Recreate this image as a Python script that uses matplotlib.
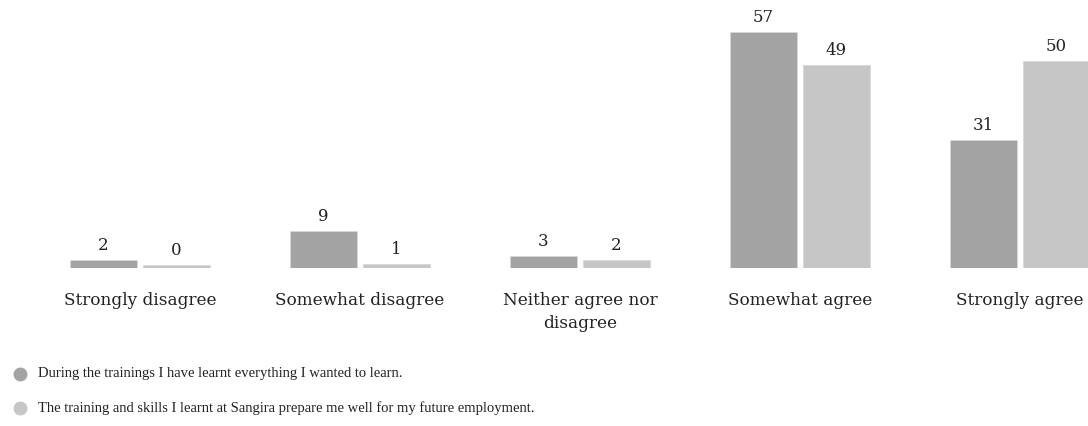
import matplotlib
matplotlib.use("Agg")
import matplotlib.pyplot as plt
from matplotlib.lines import Line2D
import numpy as np

# Survey answers and counts for the two statements
categories = ["Strongly disagree", "Somewhat disagree", "Neither agree nor\ndisagree",
              "Somewhat agree", "Strongly agree"]
learnt_everything = [2, 9, 3, 57, 31]
prepared_for_job = [0, 1, 2, 49, 50]
series_labels = [
    "During the trainings I have learnt everything I wanted to learn.",
    "The training and skills I learnt at Sangira prepare me well for my future employment.",
]
colors = ["#a3a3a3", "#c6c6c6"]

plt.rcParams['font.family'] = ['DejaVu Serif']

W, H = 1088, 426
fig = plt.figure(figsize=(W / 100, H / 100), dpi=100)

# axes: baseline at 268 px from the top, group spacing 220 px, first centre at x=140
base_px = 268
px_per_unit = 4.14
ax = fig.add_axes([0, (H - base_px) / H, 1, base_px / H])
ax.set_xlim(-140 / 220, (W - 140) / 220)
ax.set_ylim(0, base_px / px_per_unit)
ax.axis("off")

x = np.arange(len(categories))
width = 67 / 220
offset = 36.5 / 220
min_h = 0.75  # zero values still show as a thin strip

for i, (vals, col) in enumerate(zip([learnt_everything, prepared_for_job], colors)):
    xs = x - offset if i == 0 else x + offset
    heights = [max(v, min_h) for v in vals]
    ax.bar(xs, heights, width, color=col, edgecolor="#d8d8d8", linewidth=0.6)
    for xi, h, v in zip(xs, heights, vals):
        ax.text(xi, h + 1.45, str(v), ha="center", va="bottom", fontsize=12,
                color="#222222")

# category labels below the baseline
for xi, cat in zip(x, categories):
    px = 140 + 220 * xi
    fig.text(px / W, 1 - 292 / H, cat, ha="center", va="top", fontsize=12.2,
             color="#222222", linespacing=1.45)

# legend
legend_y = [374, 408]
for y, lab, col in zip(legend_y, series_labels, colors):
    fig.add_artist(Line2D([20 / W], [1 - y / H], marker="o", markersize=9,
                          color=col, transform=fig.transFigure))
    fig.text(38 / W, 1 - y / H, lab, ha="left", va="center", fontsize=10.5,
             family="Liberation Serif", color="#222222")

fig.savefig("out.png", dpi=100)
